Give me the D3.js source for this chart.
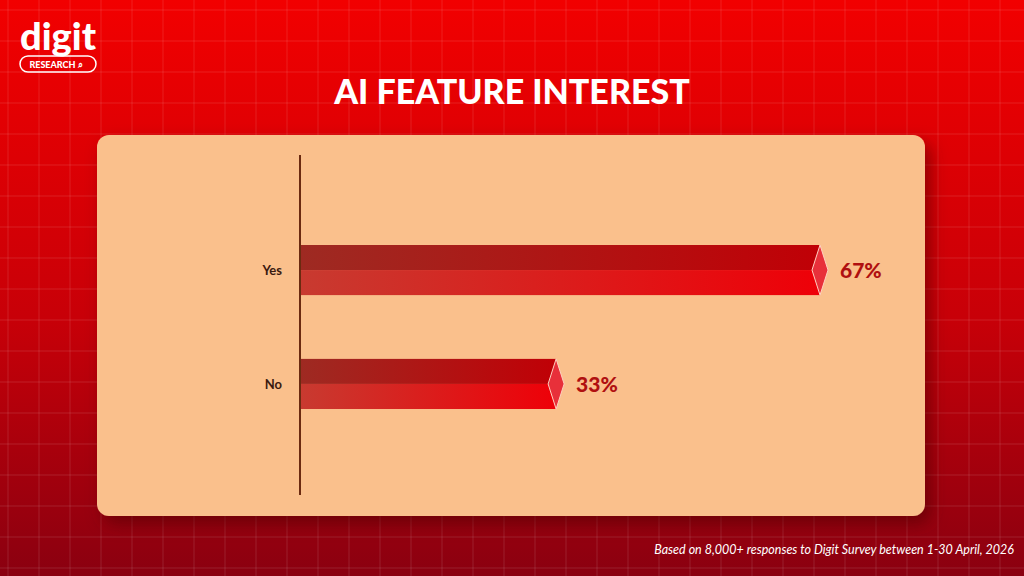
<!DOCTYPE html><html><head><meta charset="utf-8"><script src="https://cdn.jsdelivr.net/npm/d3@7"></script>
<style>body{margin:0}svg{display:block}</style></head><body><script>
const categories=["Yes","No"];
const values=[67,33];
const W=1024,H=576;
const svg=d3.select("body").append("svg").attr("width",W).attr("height",H);
const defs=svg.append("defs");
const bg=defs.append("linearGradient").attr("id","bg").attr("x1",0).attr("y1",0).attr("x2",0).attr("y2",1);
bg.append("stop").attr("offset",0).attr("stop-color","#f20000");
bg.append("stop").attr("offset",0.55).attr("stop-color","#c80008");
bg.append("stop").attr("offset",1).attr("stop-color","#8a0010");
const topG=defs.append("linearGradient").attr("id","topg");
topG.append("stop").attr("offset",0).attr("stop-color","#9e2a22");
topG.append("stop").attr("offset",1).attr("stop-color","#c00006");
const botG=defs.append("linearGradient").attr("id","botg");
botG.append("stop").attr("offset",0).attr("stop-color","#c83a30");
botG.append("stop").attr("offset",1).attr("stop-color","#ee0008");
const sh=defs.append("filter").attr("id","sh").attr("x","-10%").attr("y","-10%").attr("width","130%").attr("height","130%");
sh.append("feDropShadow").attr("dx",6).attr("dy",8).attr("stdDeviation",8).attr("flood-color","#400").attr("flood-opacity",0.5);
svg.append("rect").attr("width",W).attr("height",H).attr("fill","url(#bg)");
const g=svg.append("g").attr("stroke","#fff").attr("stroke-opacity",0.12);
for(let x=8;x<W;x+=31)g.append("line").attr("x1",x).attr("x2",x).attr("y1",0).attr("y2",H);
for(let y=10;y<H;y+=31)g.append("line").attr("y1",y).attr("y2",y).attr("x1",0).attr("x2",W);
svg.append("text").attr("x",58).attr("y",50).attr("text-anchor","middle").attr("fill","#fff").attr("font-family","Lato").attr("font-weight",900).attr("font-size",38).text("digit");
svg.append("rect").attr("x",20).attr("y",56).attr("width",76).attr("height",16).attr("rx",8).attr("fill","none").attr("stroke","#fff").attr("stroke-width",1.5);
svg.append("text").attr("x",56).attr("y",68).attr("text-anchor","middle").attr("fill","#fff").attr("font-family","Lato").attr("font-weight",900).attr("font-size",9).text("RESEARCH ⌕");
svg.append("text").attr("x",512).attr("y",104).attr("text-anchor","middle").attr("fill","#fff").attr("font-family","Lato").attr("font-weight",900).attr("font-size",34).text("AI FEATURE INTEREST");
svg.append("rect").attr("x",97).attr("y",135).attr("width",828).attr("height",381).attr("rx",12).attr("fill","#fac08c").attr("filter","url(#sh)");
const x=d3.scaleLinear().domain([0,67]).range([300,820]);
const y=d3.scaleBand().domain(categories).range([245,409]).paddingInner(0.56).paddingOuter(0);
svg.append("line").attr("x1",300).attr("x2",300).attr("y1",155).attr("y2",495).attr("stroke","#6b2a10").attr("stroke-width",2);
categories.forEach((c,i)=>{
 const y0=y(c),h=y.bandwidth(),x1=x(values[i]);
 svg.append("rect").attr("x",301).attr("y",y0).attr("width",x1-301).attr("height",h/2).attr("fill","url(#topg)");
 svg.append("rect").attr("x",301).attr("y",y0+h/2).attr("width",x1-301).attr("height",h/2).attr("fill","url(#botg)");
 svg.append("path").attr("d",`M${x1},${y0}L${x1+8},${y0+h/2}L${x1},${y0+h}L${x1-8},${y0+h/2}Z`).attr("fill","#e8303a").attr("stroke","#ffd0c0").attr("stroke-width",1);
 svg.append("text").attr("x",x1+20).attr("y",y0+h/2+8).attr("fill","#b01010").attr("font-family","Lato").attr("font-weight",900).attr("font-size",21).text(values[i]+"%");
 svg.append("text").attr("x",282).attr("y",y0+h/2+5).attr("text-anchor","end").attr("fill","#3a1a10").attr("font-family","Lato").attr("font-weight",700).attr("font-size",13).text(c);
});
svg.append("text").attr("x",1014).attr("y",554).attr("text-anchor","end").attr("fill","#fff").attr("font-family","Lato").attr("font-style","italic").attr("font-size",12.5).text("Based on 8,000+ responses to Digit Survey between 1-30 April, 2026");
</script></body></html>
